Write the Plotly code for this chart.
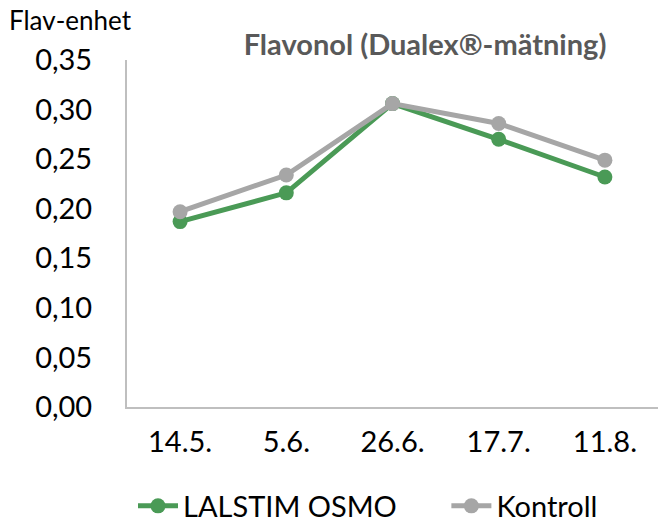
import plotly.graph_objects as go

categories = ["14.5.", "5.6.", "26.6.", "17.7.", "11.8."]
lalstim = [0.187, 0.216, 0.306, 0.270, 0.232]
kontroll = [0.197, 0.234, 0.306, 0.286, 0.249]
y_ticks = [0, 0.05, 0.10, 0.15, 0.20, 0.25, 0.30, 0.35]
y_tick_labels = ["0,00", "0,05", "0,10", "0,15", "0,20", "0,25", "0,30", "0,35"]
series_names = ["LALSTIM OSMO", "Kontroll"]

GREEN = "#4A9A56"
GRAY = "#A6A6A6"
FONT = "Lato"

fig = go.Figure()
fig.add_trace(go.Scatter(x=categories, y=lalstim, name=series_names[0] + "&nbsp;" * 6,
                         mode="lines+markers",
                         line=dict(color=GREEN, width=5), marker=dict(color=GREEN, size=15)))
fig.add_trace(go.Scatter(x=categories, y=kontroll, name=series_names[1], mode="lines+markers",
                         line=dict(color=GRAY, width=5), marker=dict(color=GRAY, size=15)))

fig.update_layout(
    width=658, height=524,
    margin=dict(l=127, r=0, t=60, b=117, autoexpand=False),
    paper_bgcolor="white", plot_bgcolor="white",
    font=dict(family=FONT, size=29, color="black"),
    showlegend=True,
    legend=dict(orientation="h", xref="container", yref="container", x=133/658, xanchor="left",
                y=1 - 506/524, yanchor="middle",
                font=dict(size=29, color="black"), itemwidth=40),
    title=dict(text="<b>Flavonol (Dualex®-mätning)</b>", x=425/658, xanchor="center",
               y=1 - 45/524, yanchor="middle", font=dict(size=29, color="#595959", family=FONT)),
    annotations=[dict(text="Flav-enhet", xref="paper", yref="paper", x=(70 - 127)/531,
                      y=(407 - 20)/347, xanchor="center", yanchor="middle", showarrow=False,
                      font=dict(size=26, color="black", family=FONT))],
)
fig.update_xaxes(type="category", range=[-0.5, 4.5], showgrid=False, showline=True,
                 linecolor="#BFBFBF", linewidth=2, ticks="", ticklabelstandoff=8,
                 zeroline=False, automargin=False)
fig.update_yaxes(range=[0, 0.35], tickvals=y_ticks, ticktext=y_tick_labels, showgrid=False,
                 showline=True, linecolor="#BFBFBF", linewidth=2, ticks="", ticklabelstandoff=27,
                 zeroline=False, automargin=False)

fig.write_html("out.html", config={"displayModeBar": False},
               post_script="document.body.style.margin='0';document.body.style.padding='0';")
